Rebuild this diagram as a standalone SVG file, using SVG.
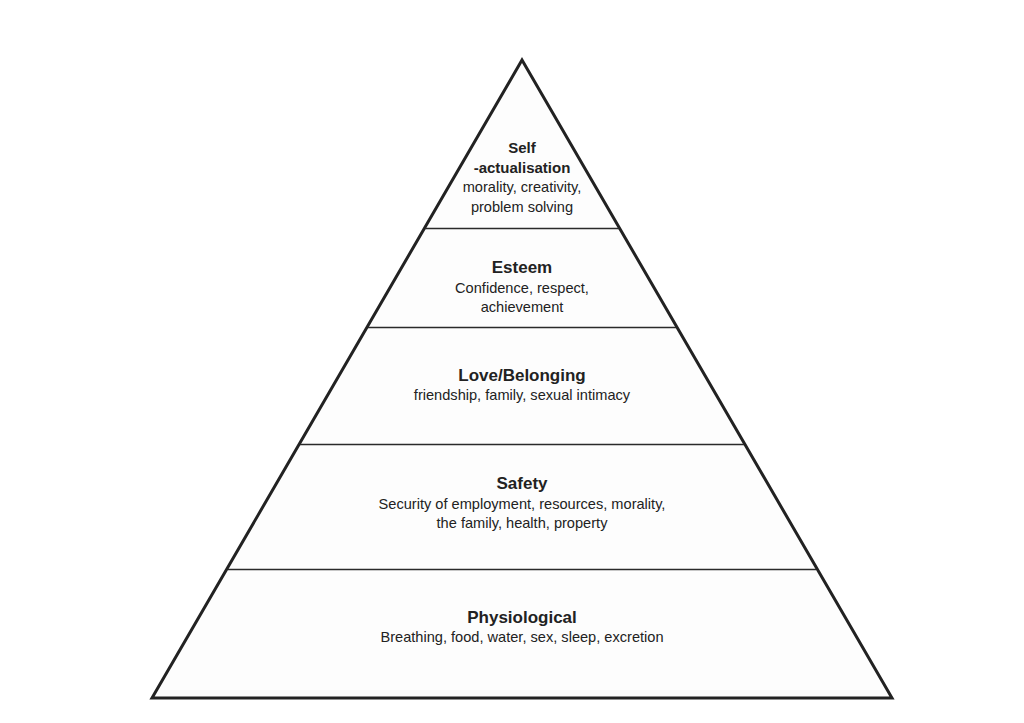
<svg xmlns="http://www.w3.org/2000/svg" width="1024" height="723" viewBox="0 0 1024 723">
<style>
.t{font-family:"Liberation Sans",Arial,sans-serif;font-weight:bold;font-size:17px;fill:#222;text-anchor:middle}
.ts{font-family:"Liberation Sans",Arial,sans-serif;font-weight:bold;font-size:15px;fill:#222;text-anchor:middle}
.b{font-family:"Liberation Sans",Arial,sans-serif;font-size:14.6px;fill:#222;text-anchor:middle}
.div{stroke:#2a2a2a;stroke-width:1.3;fill:none}
</style>
<rect width="1024" height="723" fill="#ffffff"/>
<g id="pyramid">
<polygon points="522,60 152,698 892,698" fill="#fdfdfd" stroke="#222" stroke-width="3" stroke-linejoin="miter"/>
</g>
<g id="dividers">
<line class="div" x1="425" y1="228.5" x2="619" y2="228.5"/>
<line class="div" x1="368" y1="327.5" x2="676" y2="327.5"/>
<line class="div" x1="300" y1="444.5" x2="744" y2="444.5"/>
<line class="div" x1="228" y1="569.5" x2="816" y2="569.5"/>
</g>
<g id="self-actualisation">
<text class="ts" x="522" y="153">Self</text>
<text class="ts" x="522" y="173">-actualisation</text>
<text class="b" x="522" y="192">morality, creativity,</text>
<text class="b" x="522" y="212">problem solving</text>
</g>
<g id="esteem">
<text class="t" x="522" y="273">Esteem</text>
<text class="b" x="522" y="293">Confidence, respect,</text>
<text class="b" x="522" y="312">achievement</text>
</g>
<g id="love">
<text class="t" x="522" y="381">Love/Belonging</text>
<text class="b" x="522" y="400">friendship, family, sexual intimacy</text>
</g>
<g id="safety">
<text class="t" x="522" y="489">Safety</text>
<text class="b" x="522" y="509">Security of employment, resources, morality,</text>
<text class="b" x="522" y="528">the family, health, property</text>
</g>
<g id="physiological">
<text class="t" x="522" y="623">Physiological</text>
<text class="b" x="522" y="642">Breathing, food, water, sex, sleep, excretion</text>
</g>
</svg>
